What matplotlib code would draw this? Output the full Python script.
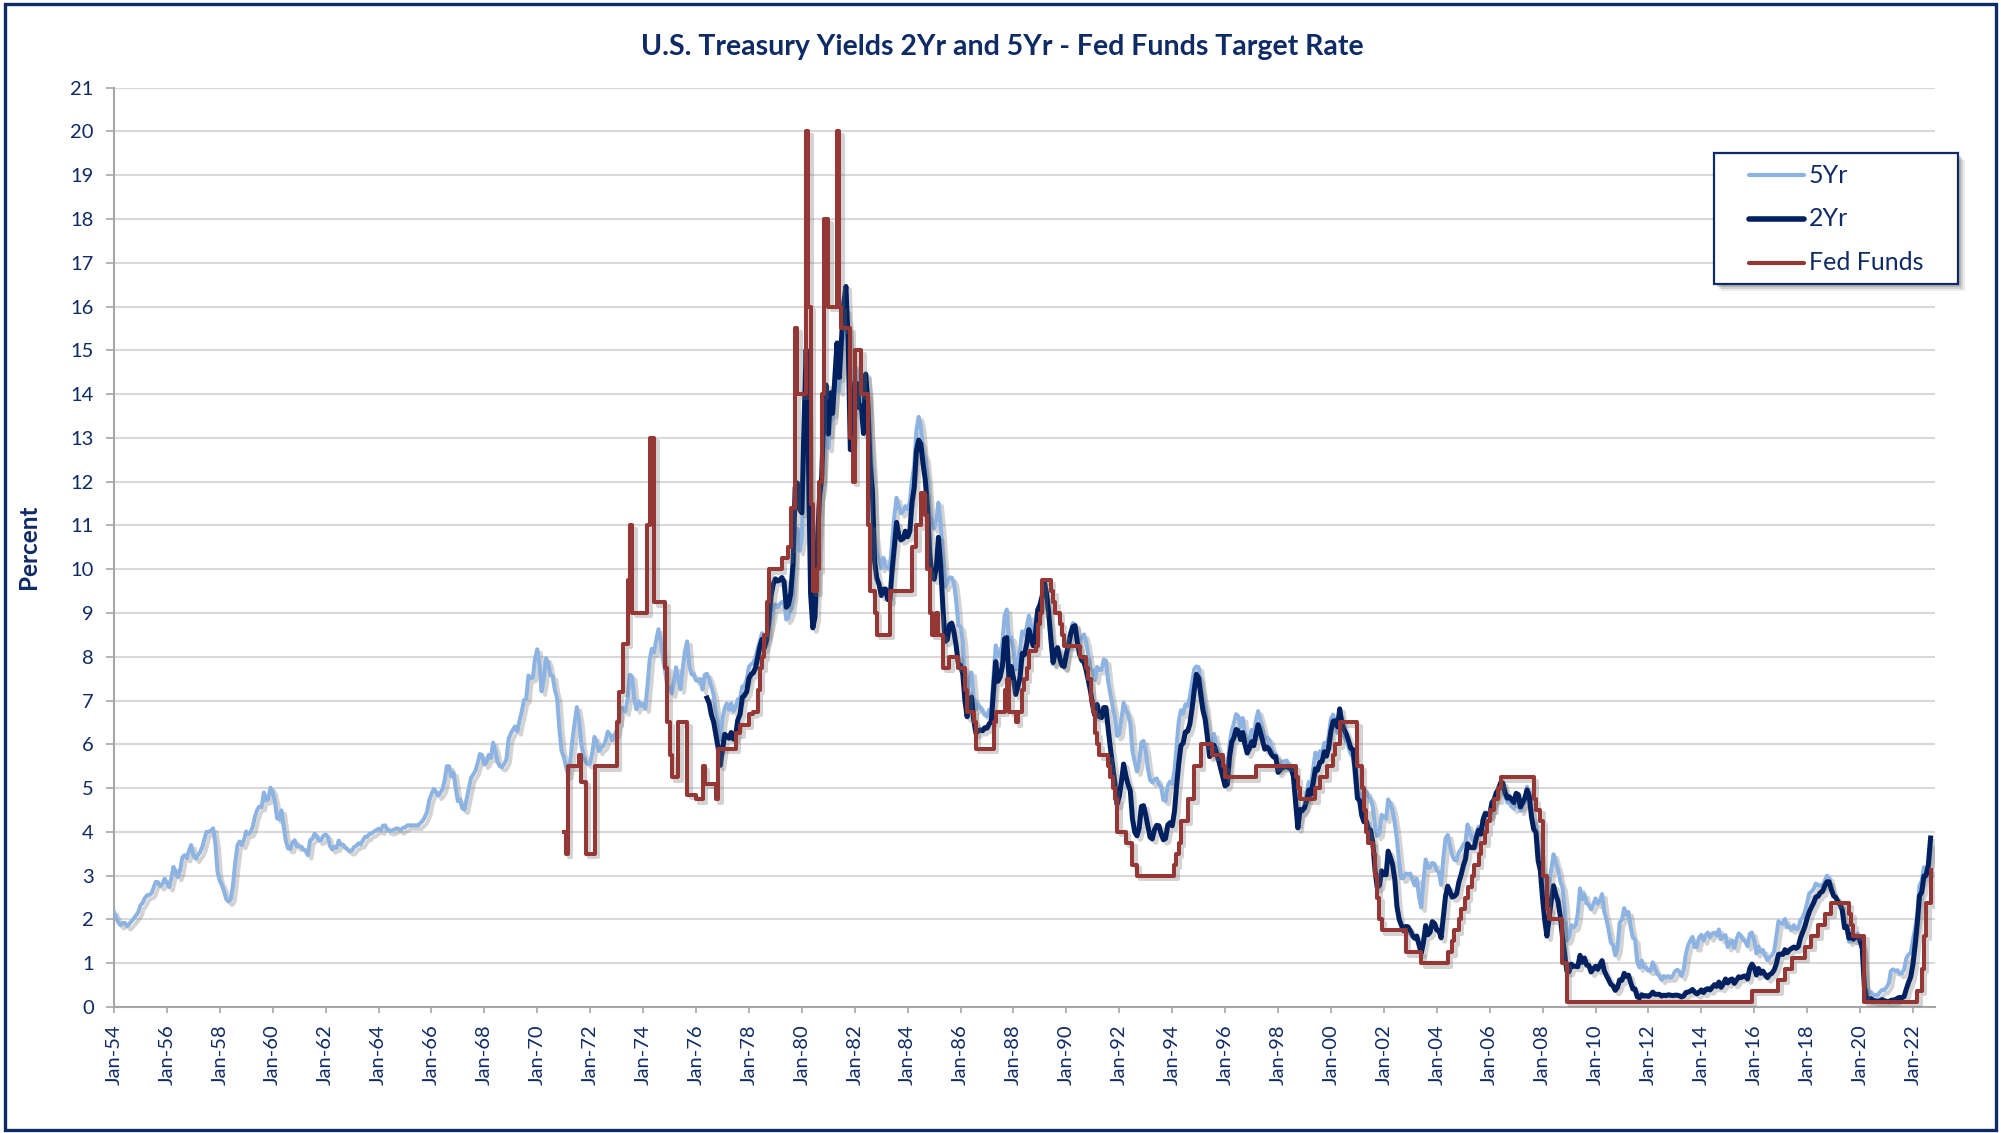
import matplotlib
matplotlib.use("Agg")
import matplotlib.pyplot as plt
import matplotlib.dates as mdates
import matplotlib.patheffects as pe
from matplotlib.patches import Rectangle
from matplotlib.lines import Line2D
import pandas as pd

plt.rcParams['font.family'] = ['Lato', 'DejaVu Sans']

# monthly averages, 5 year treasury, from Jan-1954
y5_start = "1954-01-01"
y5 = [
    2.17, 2.04, 1.93, 1.87, 1.92, 1.92, 1.85, 1.90, 1.96, 2.02, 2.09, 2.16,
    2.32, 2.38, 2.48, 2.55, 2.56, 2.59, 2.72, 2.86, 2.85, 2.76, 2.81, 2.93,
    2.84, 2.74, 2.93, 3.20, 3.08, 2.97, 3.12, 3.41, 3.47, 3.40, 3.56, 3.70,
    3.47, 3.39, 3.46, 3.53, 3.64, 3.83, 4.00, 4.00, 4.03, 4.08, 3.72, 3.08,
    2.88, 2.78, 2.64, 2.46, 2.41, 2.46, 2.77, 3.29, 3.69, 3.78, 3.70, 3.82,
    4.01, 3.96, 3.99, 4.12, 4.35, 4.50, 4.58, 4.57, 4.90, 4.72, 4.75, 5.01,
    4.92, 4.69, 4.31, 4.29, 4.49, 4.12, 3.79, 3.62, 3.61, 3.76, 3.81, 3.67,
    3.67, 3.66, 3.60, 3.57, 3.47, 3.81, 3.84, 3.96, 3.90, 3.80, 3.82, 3.91,
    3.94, 3.89, 3.68, 3.60, 3.66, 3.64, 3.80, 3.71, 3.70, 3.64, 3.60, 3.56,
    3.58, 3.66, 3.68, 3.74, 3.72, 3.81, 3.89, 3.89, 3.96, 3.97, 4.01, 4.04,
    4.07, 4.03, 4.14, 4.15, 4.05, 4.02, 4.03, 4.05, 4.08, 4.07, 4.04, 4.09,
    4.10, 4.15, 4.15, 4.15, 4.15, 4.15, 4.15, 4.20, 4.25, 4.34, 4.46, 4.72,
    4.86, 4.98, 4.92, 4.83, 4.89, 4.97, 5.17, 5.50, 5.50, 5.27, 5.36, 5.00,
    4.70, 4.74, 4.54, 4.51, 4.75, 5.01, 5.23, 5.31, 5.40, 5.57, 5.78, 5.75,
    5.54, 5.59, 5.76, 5.69, 6.04, 5.85, 5.60, 5.50, 5.48, 5.55, 5.66, 6.12,
    6.25, 6.34, 6.41, 6.30, 6.54, 6.75, 7.01, 7.03, 7.57, 7.51, 7.53, 7.96,
    8.17, 7.82, 7.21, 7.50, 7.97, 7.86, 7.58, 7.56, 7.24, 7.06, 6.37, 5.86,
    5.72, 5.50, 5.30, 5.60, 6.10, 6.50, 6.85, 6.55, 6.00, 5.75, 5.60, 5.55,
    5.56, 5.83, 6.17, 6.03, 5.85, 5.93, 5.96, 6.08, 6.29, 6.22, 6.09, 6.20,
    6.32, 6.61, 6.84, 6.82, 6.75, 7.03, 7.59, 7.55, 7.05, 6.80, 6.98, 6.88,
    6.93, 6.82, 7.31, 7.92, 8.18, 8.10, 8.38, 8.63, 8.37, 7.97, 7.68, 7.31,
    7.31, 7.16, 7.39, 7.76, 7.49, 7.26, 7.72, 8.12, 8.35, 7.80, 7.60, 7.60,
    7.46, 7.45, 7.49, 7.25, 7.59, 7.61, 7.49, 7.31, 7.13, 6.75, 6.52, 6.10,
    6.58, 6.83, 6.93, 6.79, 6.94, 6.76, 6.84, 7.03, 7.04, 7.32, 7.34, 7.48,
    7.77, 7.83, 7.86, 7.98, 8.18, 8.36, 8.54, 8.33, 8.43, 8.61, 8.84, 9.08,
    9.20, 9.13, 9.20, 9.25, 9.24, 8.85, 8.90, 9.06, 9.41, 10.63, 10.93, 10.42,
    10.74, 12.60, 13.47, 11.84, 9.95, 9.21, 9.53, 10.84, 11.62, 11.86, 12.83, 13.25,
    12.77, 13.41, 13.41, 14.09, 14.67, 14.06, 14.79, 15.56, 15.93, 15.41, 13.38, 13.60,
    14.65, 14.54, 13.98, 14.00, 13.75, 14.43, 14.07, 13.00, 12.25, 10.80, 10.38, 10.22,
    10.03, 10.26, 10.08, 10.02, 10.03, 10.63, 11.21, 11.63, 11.43, 11.28, 11.32, 11.44,
    11.37, 11.54, 12.02, 12.37, 13.17, 13.48, 13.27, 12.68, 12.53, 12.06, 11.33, 11.07,
    10.93, 11.13, 11.52, 11.01, 10.34, 9.60, 9.70, 9.81, 9.81, 9.69, 9.28, 8.73,
    8.68, 8.34, 7.46, 7.05, 7.52, 7.64, 7.06, 6.80, 6.92, 6.83, 6.76, 6.67,
    6.64, 6.79, 6.79, 7.57, 8.26, 8.02, 8.01, 8.32, 8.94, 9.08, 8.35, 8.45,
    8.18, 7.71, 7.83, 8.19, 8.58, 8.49, 8.66, 8.94, 8.69, 8.51, 8.79, 9.09,
    9.15, 9.27, 9.51, 9.30, 8.91, 8.29, 7.83, 8.09, 8.17, 7.97, 7.81, 7.75,
    8.12, 8.42, 8.60, 8.77, 8.74, 8.43, 8.33, 8.44, 8.51, 8.33, 8.02, 7.73,
    7.70, 7.47, 7.77, 7.70, 7.70, 7.94, 7.91, 7.43, 7.14, 6.87, 6.62, 6.19,
    6.24, 6.58, 6.95, 6.78, 6.69, 6.48, 5.84, 5.60, 5.38, 5.60, 6.04, 6.08,
    5.83, 5.43, 5.19, 5.13, 5.20, 5.22, 5.09, 5.03, 4.73, 4.71, 5.06, 5.15,
    5.09, 5.40, 5.94, 6.52, 6.78, 6.70, 6.91, 6.88, 7.08, 7.40, 7.72, 7.78,
    7.76, 7.37, 7.05, 6.86, 6.41, 5.93, 6.01, 6.24, 6.00, 5.86, 5.69, 5.51,
    5.36, 5.38, 5.97, 6.30, 6.48, 6.69, 6.64, 6.39, 6.60, 6.27, 5.97, 6.07,
    6.33, 6.20, 6.54, 6.76, 6.57, 6.38, 6.12, 6.16, 6.11, 5.93, 5.80, 5.77,
    5.42, 5.49, 5.61, 5.61, 5.63, 5.52, 5.46, 5.27, 4.62, 4.18, 4.54, 4.45,
    4.60, 4.91, 5.14, 5.08, 5.44, 5.81, 5.68, 5.84, 5.80, 6.03, 5.97, 6.19,
    6.58, 6.68, 6.50, 6.26, 6.69, 6.30, 6.18, 6.06, 5.93, 5.78, 5.70, 5.17,
    4.86, 4.89, 4.64, 4.76, 4.93, 4.81, 4.76, 4.57, 4.12, 3.91, 3.97, 4.39,
    4.34, 4.30, 4.74, 4.65, 4.49, 4.19, 3.81, 3.29, 2.94, 2.95, 3.05, 3.03,
    3.05, 2.90, 2.78, 2.93, 2.52, 2.27, 2.87, 3.37, 3.18, 3.19, 3.29, 3.27,
    3.12, 3.07, 2.79, 3.39, 3.85, 3.93, 3.69, 3.47, 3.36, 3.35, 3.53, 3.60,
    3.71, 3.77, 4.17, 4.00, 3.85, 3.77, 3.98, 4.12, 4.01, 4.33, 4.45, 4.39,
    4.35, 4.57, 4.72, 4.90, 5.00, 5.07, 5.04, 4.82, 4.67, 4.69, 4.58, 4.53,
    4.75, 4.71, 4.48, 4.59, 4.67, 5.03, 4.88, 4.43, 4.20, 4.20, 3.67, 3.49,
    2.98, 2.78, 2.48, 2.84, 3.15, 3.49, 3.30, 3.14, 2.88, 2.73, 2.29, 1.52,
    1.60, 1.87, 1.82, 1.86, 2.13, 2.71, 2.46, 2.57, 2.37, 2.33, 2.23, 2.34,
    2.48, 2.36, 2.43, 2.58, 2.18, 2.00, 1.76, 1.47, 1.41, 1.18, 1.35, 1.93,
    1.99, 2.26, 2.11, 2.17, 1.84, 1.58, 1.54, 1.02, 0.90, 1.06, 0.91, 0.89,
    0.84, 0.83, 1.02, 0.89, 0.76, 0.71, 0.62, 0.71, 0.67, 0.71, 0.67, 0.70,
    0.81, 0.85, 0.82, 0.71, 0.84, 1.20, 1.40, 1.52, 1.60, 1.37, 1.37, 1.58,
    1.65, 1.52, 1.64, 1.70, 1.59, 1.68, 1.70, 1.63, 1.77, 1.55, 1.62, 1.64,
    1.37, 1.47, 1.52, 1.35, 1.54, 1.68, 1.63, 1.54, 1.49, 1.39, 1.67, 1.70,
    1.52, 1.22, 1.38, 1.26, 1.30, 1.17, 1.07, 1.13, 1.18, 1.27, 1.60, 1.96,
    1.92, 1.90, 2.01, 1.82, 1.84, 1.77, 1.87, 1.78, 1.80, 1.98, 2.05, 2.18,
    2.38, 2.60, 2.63, 2.70, 2.82, 2.78, 2.78, 2.77, 2.89, 3.00, 2.95, 2.68,
    2.54, 2.49, 2.37, 2.33, 2.19, 1.83, 1.83, 1.49, 1.57, 1.53, 1.64, 1.68,
    1.56, 1.32, 0.59, 0.39, 0.34, 0.34, 0.28, 0.27, 0.27, 0.34, 0.39, 0.39,
    0.45, 0.54, 0.82, 0.86, 0.82, 0.84, 0.76, 0.77, 0.86, 1.11, 1.20, 1.23,
    1.54, 1.81, 2.11, 2.78, 2.87, 3.19, 2.96, 3.03, 3.70,
]

# 2 year treasury, from Jun-1976
y2_start = "1976-06-01"
y2 = [
    7.06, 6.94, 6.67, 6.51, 6.23, 5.93, 5.52,
    5.88, 6.23, 6.19, 6.14, 6.27, 6.12, 6.21, 6.56, 6.69, 7.07, 7.12, 7.20,
    7.51, 7.60, 7.63, 7.74, 7.98, 8.23, 8.40, 8.20, 8.38, 8.80, 9.37, 9.65,
    9.78, 9.73, 9.75, 9.81, 9.71, 9.13, 9.19, 9.45, 10.12, 11.87, 11.97, 11.37,
    11.29, 13.35, 15.02, 12.58, 9.45, 8.66, 8.91, 10.48, 11.65, 12.10, 13.68, 14.21,
    13.09, 14.03, 13.56, 14.36, 15.17, 14.38, 15.24, 16.07, 16.46, 15.25, 12.73, 13.11,
    14.26, 14.24, 13.69, 13.73, 13.10, 14.46, 13.74, 12.42, 11.79, 10.19, 9.80, 9.66,
    9.40, 9.54, 9.55, 9.31, 9.29, 10.00, 10.51, 11.07, 10.78, 10.67, 10.70, 10.87,
    10.74, 10.87, 11.53, 11.87, 12.70, 12.95, 12.86, 12.41, 12.03, 11.42, 10.38, 9.86,
    9.77, 10.05, 10.73, 10.10, 9.15, 8.35, 8.39, 8.73, 8.77, 8.57, 8.25, 7.84,
    7.80, 7.60, 7.01, 6.63, 7.00, 7.08, 6.56, 6.25, 6.31, 6.33, 6.31, 6.38,
    6.37, 6.47, 6.52, 7.24, 7.89, 7.44, 7.54, 7.78, 8.41, 8.44, 7.49, 7.78,
    7.51, 7.14, 7.31, 7.53, 8.08, 8.05, 8.28, 8.62, 8.42, 8.25, 8.55, 9.07,
    9.19, 9.39, 9.73, 9.45, 9.02, 8.41, 7.87, 8.11, 8.21, 7.97, 7.80, 7.78,
    8.06, 8.28, 8.52, 8.69, 8.71, 8.33, 8.06, 7.92, 7.88, 7.69, 7.45, 7.20,
    6.86, 6.65, 6.91, 6.63, 6.61, 6.84, 6.84, 6.35, 5.90, 5.51, 5.12, 4.63,
    4.81, 5.16, 5.55, 5.28, 5.09, 4.94, 4.30, 4.00, 3.91, 4.08, 4.58, 4.60,
    4.38, 4.11, 3.88, 3.84, 4.05, 4.15, 4.14, 3.96, 3.82, 3.85, 4.16, 4.21,
    4.14, 4.47, 5.03, 5.56, 5.97, 6.03, 6.28, 6.30, 6.46, 6.81, 7.24, 7.60,
    7.51, 7.11, 6.78, 6.57, 6.17, 5.72, 5.78, 5.98, 5.81, 5.65, 5.45, 5.25,
    5.05, 5.09, 5.70, 6.05, 6.15, 6.34, 6.31, 6.11, 6.27, 6.00, 5.80, 5.91,
    6.06, 5.97, 6.22, 6.45, 6.28, 6.09, 5.89, 5.94, 5.88, 5.77, 5.71, 5.72,
    5.36, 5.42, 5.49, 5.48, 5.50, 5.46, 5.46, 5.27, 4.67, 4.09, 4.51, 4.49,
    4.55, 4.71, 4.96, 4.86, 5.13, 5.44, 5.41, 5.59, 5.61, 5.83, 5.73, 5.93,
    6.31, 6.53, 6.54, 6.40, 6.81, 6.48, 6.34, 6.23, 6.08, 5.91, 5.88, 5.43,
    4.77, 4.71, 4.38, 4.23, 4.26, 4.08, 4.04, 3.76, 3.12, 2.73, 2.78, 3.11,
    3.03, 3.02, 3.56, 3.42, 3.26, 2.91, 2.29, 2.00, 1.86, 1.74, 1.84, 1.83,
    1.74, 1.63, 1.57, 1.62, 1.42, 1.23, 1.47, 1.86, 1.65, 1.71, 1.95, 1.91,
    1.76, 1.74, 1.58, 2.07, 2.53, 2.76, 2.64, 2.51, 2.53, 2.58, 2.85, 3.01,
    3.22, 3.38, 3.73, 3.65, 3.64, 3.64, 3.87, 4.04, 3.95, 4.27, 4.42, 4.40,
    4.40, 4.67, 4.73, 4.89, 4.97, 5.12, 5.12, 4.90, 4.77, 4.80, 4.74, 4.67,
    4.88, 4.85, 4.57, 4.67, 4.77, 4.96, 4.82, 4.34, 4.06, 3.99, 3.34, 3.12,
    2.48, 1.97, 1.62, 2.05, 2.45, 2.77, 2.57, 2.42, 2.08, 1.61, 1.21, 0.82,
    0.81, 0.98, 0.93, 0.93, 0.92, 1.18, 1.02, 1.12, 0.96, 0.95, 0.80, 0.87,
    0.93, 0.86, 0.96, 1.06, 0.83, 0.72, 0.62, 0.52, 0.48, 0.38, 0.45, 0.62,
    0.61, 0.77, 0.70, 0.73, 0.56, 0.41, 0.41, 0.23, 0.21, 0.28, 0.25, 0.26,
    0.24, 0.28, 0.34, 0.29, 0.29, 0.29, 0.25, 0.27, 0.26, 0.28, 0.27, 0.26,
    0.27, 0.27, 0.26, 0.23, 0.25, 0.33, 0.34, 0.36, 0.40, 0.34, 0.30, 0.34,
    0.39, 0.33, 0.40, 0.42, 0.39, 0.45, 0.51, 0.47, 0.57, 0.45, 0.53, 0.64,
    0.55, 0.62, 0.64, 0.54, 0.61, 0.69, 0.67, 0.70, 0.71, 0.64, 0.88, 0.98,
    0.90, 0.73, 0.88, 0.77, 0.82, 0.73, 0.67, 0.74, 0.77, 0.84, 0.98, 1.20,
    1.21, 1.20, 1.31, 1.24, 1.30, 1.34, 1.37, 1.34, 1.38, 1.58, 1.71, 1.84,
    2.03, 2.18, 2.28, 2.38, 2.51, 2.53, 2.61, 2.64, 2.77, 2.86, 2.86, 2.68,
    2.54, 2.50, 2.41, 2.34, 2.21, 1.81, 1.84, 1.57, 1.65, 1.55, 1.61, 1.61,
    1.52, 1.33, 0.45, 0.22, 0.17, 0.19, 0.15, 0.14, 0.13, 0.14, 0.17, 0.14,
    0.13, 0.12, 0.15, 0.16, 0.16, 0.20, 0.22, 0.21, 0.24, 0.41, 0.56, 0.69,
    0.98, 1.44, 1.91, 2.54, 2.62, 2.99, 3.01, 3.25, 3.86,
]

# fed funds target: month it changed, new level
fed_dates = [
    "1971-01", "1971-02", "1971-03", "1971-08", "1971-09", "1971-11", "1972-03",
    "1973-01", "1973-02", "1973-04", "1973-06", "1973-07", "1973-08", "1974-03",
    "1974-04", "1974-06", "1974-11", "1974-12", "1975-01", "1975-02", "1975-05",
    "1975-09", "1976-01", "1976-04", "1976-05", "1976-10", "1976-11", "1977-07",
    "1977-09", "1978-01", "1978-03", "1978-05", "1978-06", "1978-07", "1978-08",
    "1978-09", "1978-10", "1979-04", "1979-07", "1979-08", "1979-10", "1979-11",
    "1980-03", "1980-04", "1980-05", "1980-06", "1980-08", "1980-09", "1980-10",
    "1980-11", "1981-01", "1981-05", "1981-06", "1981-07", "1981-11", "1981-12",
    "1982-01", "1982-04", "1982-07", "1982-08", "1982-10", "1982-11", "1983-05",
    "1984-03", "1984-05", "1984-07", "1984-09", "1984-10", "1984-11", "1984-12",
    "1985-02", "1985-03", "1985-05", "1985-08", "1985-12", "1986-03", "1986-04",
    "1986-07", "1986-08", "1987-04", "1987-05", "1987-09", "1987-10", "1987-11",
    "1988-02", "1988-03", "1988-05", "1988-06", "1988-07", "1988-08", "1988-11",
    "1988-12", "1989-01", "1989-02", "1989-06", "1989-07", "1989-08", "1989-10",
    "1989-11", "1989-12", "1990-07", "1990-10", "1990-11", "1990-12", "1991-01",
    "1991-02", "1991-03", "1991-04", "1991-08", "1991-09", "1991-10", "1991-11",
    "1991-12", "1992-04", "1992-07", "1992-09", "1994-02", "1994-03", "1994-04",
    "1994-05", "1994-08", "1994-11", "1995-02", "1995-07", "1995-12", "1996-01",
    "1997-03", "1998-09", "1998-10", "1998-11", "1999-06", "1999-08", "1999-11",
    "2000-02", "2000-03", "2000-05", "2001-01", "2001-03", "2001-04", "2001-05",
    "2001-06", "2001-08", "2001-09", "2001-10", "2001-11", "2001-12", "2002-11",
    "2003-06", "2004-06", "2004-08", "2004-09", "2004-11", "2004-12", "2005-02",
    "2005-03", "2005-05", "2005-06", "2005-08", "2005-09", "2005-11", "2005-12",
    "2006-01", "2006-03", "2006-05", "2006-06", "2007-09", "2007-10", "2007-12",
    "2008-01", "2008-03", "2008-04", "2008-10", "2008-12", "2015-12", "2016-12",
    "2017-03", "2017-06", "2017-12", "2018-03", "2018-06", "2018-09", "2018-12",
    "2019-08", "2019-09", "2019-10", "2020-03", "2022-03", "2022-05", "2022-06",
    "2022-07", "2022-09",
]
fed_vals = [
    4.0, 3.5, 5.5, 5.75, 5.15, 3.5, 5.5,
    6.5, 7.2, 8.3, 9.75, 11.0, 9.0, 11.0,
    13.0, 9.25, 7.75, 6.5, 5.75, 5.25, 6.5,
    4.85, 4.75, 5.5, 5.1, 4.75, 5.9, 6.25,
    6.45, 6.7, 6.75, 7.25, 7.75, 8.0, 8.5,
    9.25, 10.0, 10.25, 10.5, 11.4, 15.5, 14.0,
    20.0, 16.0, 11.5, 9.5, 10.0, 12.0, 14.0,
    18.0, 16.0, 20.0, 16.0, 15.5, 13.0, 12.0,
    15.0, 14.0, 11.0, 9.5, 9.0, 8.5, 9.5,
    10.5, 11.0, 11.75, 11.25, 10.0, 9.0, 8.5,
    9.0, 8.5, 7.75, 8.0, 7.75, 7.25, 6.75,
    6.5, 5.9, 6.5, 6.75, 7.25, 7.5, 6.75,
    6.5, 6.75, 7.25, 7.5, 7.75, 8.125, 8.25,
    8.75, 9.0, 9.75, 9.5, 9.25, 9.0, 8.75,
    8.5, 8.25, 8.0, 7.75, 7.5, 7.0, 6.75,
    6.25, 6.0, 5.75, 5.5, 5.25, 5.0, 4.75,
    4.0, 3.75, 3.25, 3.0, 3.25, 3.5, 3.75,
    4.25, 4.75, 5.5, 6.0, 5.75, 5.5, 5.25,
    5.5, 5.25, 5.0, 4.75, 5.0, 5.25, 5.5,
    5.75, 6.0, 6.5, 5.5, 5.0, 4.5, 4.0,
    3.75, 3.5, 3.0, 2.5, 2.0, 1.75, 1.25,
    1.0, 1.25, 1.5, 1.75, 2.0, 2.25, 2.5,
    2.75, 3.0, 3.25, 3.5, 3.75, 4.0, 4.25,
    4.5, 4.75, 5.0, 5.25, 4.75, 4.5, 4.25,
    3.0, 2.25, 2.0, 1.0, 0.125, 0.375, 0.625,
    0.875, 1.125, 1.375, 1.625, 1.875, 2.125, 2.375,
    2.125, 1.875, 1.625, 0.125, 0.375, 0.875, 1.625,
    2.375, 3.125,
]

navy = '#0f2b66'
c5 = '#8db3e2'
c2 = '#002060'
cf = '#953735'
W, H = 2001, 1133

d5 = pd.date_range(y5_start, periods=len(y5), freq='MS')
d2 = pd.date_range(y2_start, periods=len(y2), freq='MS')
df = pd.to_datetime(fed_dates, format='%Y-%m')

fig = plt.figure(figsize=(W / 100, H / 100), dpi=100)
ax = fig.add_axes([114 / W, 1 - 1007 / H, (1935 - 114) / W, (1007 - 87.7) / H])

shadow = [pe.SimpleLineShadow(offset=(2.5, -2.5), shadow_color='#707070', alpha=0.3), pe.Normal()]
ax.plot(d5, y5, color=c5, lw=2.9, solid_joinstyle='round', path_effects=shadow, zorder=3)
ax.plot(d2, y2, color=c2, lw=3.6, solid_joinstyle='round', path_effects=shadow, zorder=4)
ax.plot(df, fed_vals, color=cf, lw=2.9, drawstyle='steps-post', path_effects=shadow, zorder=5)

ax.set_xlim(pd.Timestamp('1954-01-01'), pd.Timestamp('2022-11-01'))
ax.set_ylim(0, 21)
ax.set_yticks(range(0, 22))
ax.xaxis.set_major_locator(mdates.YearLocator(2, month=1, day=1))
ax.xaxis.set_major_formatter(mdates.DateFormatter('%b-%y'))

ax.yaxis.grid(True, color='#d9d9d9', lw=1.5)
ax.set_axisbelow(True)
for s in ['top', 'right']:
    ax.spines[s].set_visible(False)
for s in ['left', 'bottom']:
    ax.spines[s].set_color('#a6a6a6')
    ax.spines[s].set_linewidth(1.5)

ax.tick_params(axis='x', length=4.5, width=1.2, color='#a6a6a6', pad=8,
               labelsize=14.5, labelcolor=navy, labelrotation=90)
ax.tick_params(axis='y', length=5.5, width=1.2, color='#a6a6a6', pad=9,
               labelsize=14.5, labelcolor=navy)

fig.text(0.501, 1 - 47 / H, 'U.S. Treasury Yields 2Yr and 5Yr - Fed Funds Target Rate',
         ha='center', va='center', fontsize=20.5, fontweight='bold', color=navy)
fig.text(28 / W, 1 - 547 / H, 'Percent', rotation=90, ha='center', va='center',
         fontsize=17.5, fontweight='bold', color=navy)

# legend box drawn by hand, with shadow
lx0, lx1, ly0, ly1 = 1714, 1958, 153, 284
for k, a in [(7, 0.12), (5, 0.18), (3, 0.25)]:
    fig.patches.append(Rectangle((lx0 / W + k / W, 1 - ly1 / H - k / H), (lx1 - lx0) / W, (ly1 - ly0) / H,
                                 transform=fig.transFigure, facecolor='#606060', edgecolor='none',
                                 alpha=a, zorder=10))
fig.patches.append(Rectangle((lx0 / W, 1 - ly1 / H), (lx1 - lx0) / W, (ly1 - ly0) / H,
                             transform=fig.transFigure, facecolor='white', edgecolor=navy,
                             lw=1.6, zorder=11))
for yy, lab, col, lw in [(175, '5Yr', c5, 3.0), (219, '2Yr', c2, 4.0), (263, 'Fed Funds', cf, 3.0)]:
    fig.lines.append(Line2D([1749 / W, 1804 / W], [1 - yy / H, 1 - yy / H], transform=fig.transFigure,
                            color=col, lw=lw, solid_capstyle='round', zorder=12))
    fig.text(1809 / W, 1 - yy / H, lab, ha='left', va='center', fontsize=18, color=navy, zorder=12)

# outer frame
fig.patches.append(Rectangle((5 / W, 3 / H), (1996 - 5) / W, (1129 - 3) / H, transform=fig.transFigure,
                             facecolor='none', edgecolor=navy, lw=2.4, zorder=20))

fig.savefig('out.png', dpi=100)
plt.close()
